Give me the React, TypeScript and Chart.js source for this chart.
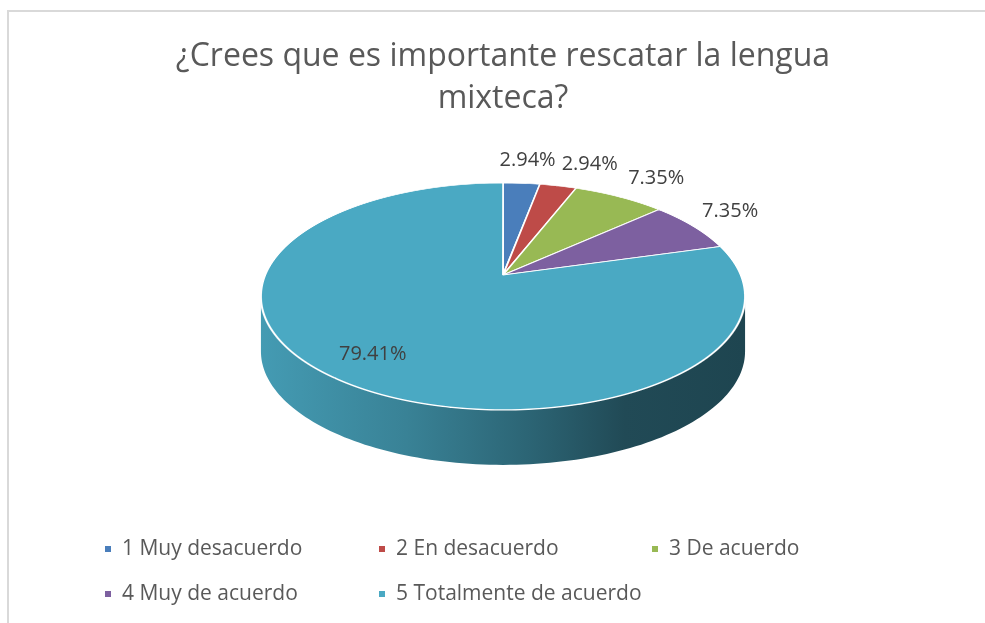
import React, { useEffect, useRef } from "react";
import { Chart, registerables } from "chart.js";
Chart.register(...registerables);

const TITLE_LINES = ["¿Crees que es importante rescatar la lengua", "mixteca?"];
const CATEGORIES = [
  "1 Muy desacuerdo",
  "2 En desacuerdo",
  "3 De acuerdo",
  "4 Muy de acuerdo",
  "5 Totalmente de acuerdo",
];
const PERCENTS = [2.94, 2.94, 7.35, 7.35, 79.41];
const COLORS = ["#4a7ebb", "#be4b48", "#98b954", "#7d60a0", "#4aa9c3"];

// perspective projection of the pie disc: centre, horizontal/vertical scale, tilt factor, thickness
const PIE = { cx: 503, cy: 275, A: 237.7, B: 109.4, k: 0.189, depth: 55 };
const LEGEND_COLS = [105, 379, 652];
const LEGEND_ROWS = [549, 594];
const FONT = "'Open Sans', 'DejaVu Sans', sans-serif";

function hexToRgb(hex: string) {
  const n = parseInt(hex.slice(1), 16);
  return [(n >> 16) & 255, (n >> 8) & 255, n & 255];
}
function shade(hex: string, f: number) {
  const [r, g, b] = hexToRgb(hex);
  return `rgb(${Math.round(r * f)},${Math.round(g * f)},${Math.round(b * f)})`;
}
// project canvas angle phi at relative radius r onto the tilted disc
function project(phi: number, r = 1) {
  const X = r * Math.cos(phi);
  const Y = -r * Math.sin(phi);
  const d = 1 + PIE.k * Y;
  return { x: PIE.cx + (PIE.A * X) / d, y: PIE.cy - (PIE.B * Y) / d };
}
const yToDiscY = (y: number) => (PIE.cy - y) / (PIE.B - PIE.k * (PIE.cy - y));

const pie3d = {
  id: "pie3d",
  beforeDatasetsDraw(chart: any) {
    const ctx = chart.ctx;
    const meta = chart.getDatasetMeta(0);
    const colors = chart.data.datasets[0].backgroundColor as string[];
    const frontLo = Math.asin(PIE.k);
    const frontHi = Math.PI - frontLo;
    // side walls of the front half
    meta.data.forEach((arc: any, i: number) => {
      const { startAngle, endAngle } = arc.getProps(["startAngle", "endAngle"], true);
      for (const n of [-2 * Math.PI, 0, 2 * Math.PI]) {
        const lo = Math.max(startAngle, frontLo + n);
        const hi = Math.min(endAngle, frontHi + n);
        if (hi <= lo) continue;
        const steps = 120;
        ctx.save();
        ctx.beginPath();
        for (let s = 0; s <= steps; s++) {
          const p = project(lo + ((hi - lo) * s) / steps);
          if (s === 0) ctx.moveTo(p.x, p.y);
          else ctx.lineTo(p.x, p.y);
        }
        for (let s = steps; s >= 0; s--) {
          const p = project(lo + ((hi - lo) * s) / steps);
          ctx.lineTo(p.x, p.y + PIE.depth);
        }
        ctx.closePath();
        const left = PIE.cx - PIE.A * 1.02;
        const right = PIE.cx + PIE.A * 1.02;
        const g = ctx.createLinearGradient(left, 0, right, 0);
        g.addColorStop(0, shade(colors[i], 0.92));
        g.addColorStop(0.3, shade(colors[i], 0.77));
        g.addColorStop(0.55, shade(colors[i], 0.6));
        g.addColorStop(0.75, shade(colors[i], 0.44));
        g.addColorStop(1, shade(colors[i], 0.41));
        ctx.fillStyle = g;
        ctx.fill();
        ctx.restore();
      }
    });
    // top face: the library's own arcs, drawn row by row through the perspective map
    const a0 = meta.data[0].getProps(["x", "y", "outerRadius"], true);
    const R = a0.outerRadius;
    const yTop = Math.floor(PIE.cy - PIE.B / (1 + PIE.k)) - 3;
    const yBot = Math.ceil(PIE.cy + PIE.B / (1 - PIE.k)) + 3;
    for (let r = yTop; r < yBot; r++) {
      const Y1 = yToDiscY(r);
      const Y2 = yToDiscY(r + 1);
      const Ym = (Y1 + Y2) / 2;
      const sx = PIE.A / (1 + PIE.k * Ym);
      const m = 1 / (Y2 - Y1);
      ctx.save();
      ctx.beginPath();
      ctx.rect(0, r, chart.width, 1);
      ctx.clip();
      ctx.translate(PIE.cx, r - m * Y1);
      ctx.scale(sx / R, -m / R);
      ctx.translate(-a0.x, -a0.y);
      meta.controller.draw();
      ctx.restore();
    }
    return false;
  },
  afterDraw(chart: any) {
    const ctx = chart.ctx;
    const meta = chart.getDatasetMeta(0);
    const values = chart.data.datasets[0].data as number[];
    ctx.save();
    ctx.font = `20px ${FONT}`;
    ctx.fillStyle = "#404040";
    ctx.textAlign = "center";
    ctx.textBaseline = "middle";
    let prev: { l: number; r: number; y: number } | null = null;
    meta.data.forEach((arc: any, i: number) => {
      const { startAngle, endAngle } = arc.getProps(["startAngle", "endAngle"], true);
      const mid = (startAngle + endAngle) / 2;
      const text = values[i].toFixed(2) + "%";
      const w = ctx.measureText(text).width;
      let lx: number, ly: number;
      if (values[i] < 10) {
        const p = project(mid);
        const s = Math.cos(mid);
        const c = -Math.sin(mid);
        lx = p.x + Math.sign(s) * 37 * Math.min(1, Math.abs(s) * 1.8);
        ly = p.y - Math.sign(c) * (14 + 9 * Math.pow(Math.abs(c), 4));
        if (prev && Math.abs(prev.y - ly) < 24 && lx - w / 2 < prev.r + 6) {
          lx = prev.r + 6 + w / 2;
        }
        prev = { l: lx - w / 2, r: lx + w / 2, y: ly };
      } else {
        const p = project(mid, 0.8);
        lx = p.x;
        ly = p.y;
      }
      ctx.fillText(text, lx, ly);
    });
    ctx.restore();
  },
};

const legendPlugin = {
  id: "gridLegend",
  afterDraw(chart: any) {
    const ctx = chart.ctx;
    const labels = chart.data.labels as string[];
    const colors = chart.data.datasets[0].backgroundColor as string[];
    ctx.save();
    ctx.font = `21px ${FONT}`;
    ctx.textBaseline = "middle";
    ctx.textAlign = "left";
    labels.forEach((lab, i) => {
      const x = LEGEND_COLS[i % 3];
      const y = LEGEND_ROWS[Math.floor(i / 3)];
      ctx.fillStyle = colors[i];
      ctx.fillRect(x, y - 3, 6, 6);
      ctx.fillStyle = "#595959";
      ctx.fillText(lab, x + 17, y);
    });
    ctx.restore();
  },
};

export default function App() {
  const ref = useRef<HTMLCanvasElement>(null);
  useEffect(() => {
    const chart = new Chart(ref.current!, {
      type: "pie",
      data: {
        labels: CATEGORIES,
        datasets: [
          {
            data: PERCENTS,
            backgroundColor: COLORS,
            borderColor: "#ffffff",
            borderWidth: 1.4,
          } as any,
        ],
      },
      options: {
        responsive: false,
        animation: false,
        layout: { padding: { left: 21, right: 0, top: 10, bottom: 140 } },
        plugins: {
          legend: { display: false },
          tooltip: { enabled: false },
          title: {
            display: true,
            text: TITLE_LINES,
            color: "#595959",
            font: { family: FONT, size: 32, weight: "normal", lineHeight: 1.34 },
            padding: { top: 25, bottom: 10 },
          },
        },
      },
      plugins: [pie3d, legendPlugin],
    });
    return () => chart.destroy();
  }, []);
  return (
    <div style={{ position: "fixed", left: 0, top: 0, width: 985, height: 623, overflow: "hidden", background: "#ffffff" }}>
      <canvas ref={ref} width={985} height={623} style={{ position: "absolute", left: 0, top: 0, display: "block" }} />
      <div
        style={{
          position: "absolute",
          left: 7,
          top: 10,
          width: 1000,
          height: 700,
          border: "2px solid #d9d9d9",
          pointerEvents: "none",
        }}
      />
    </div>
  );
}
